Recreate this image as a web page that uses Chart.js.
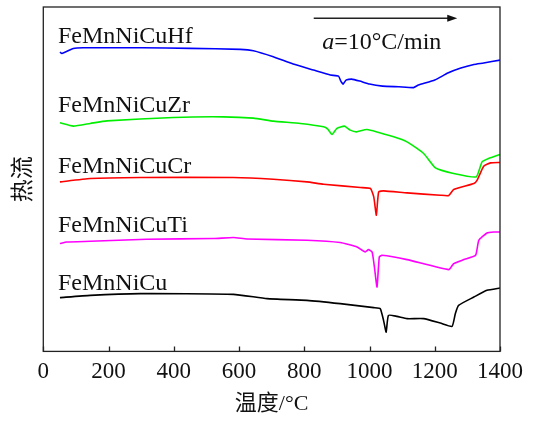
<!DOCTYPE html>
<html>
<head>
<meta charset="utf-8">
<script src="https://cdn.jsdelivr.net/npm/chart.js@4.4.1/dist/chart.umd.min.js"></script>
<style>
  html, body { margin: 0; padding: 0; background: #ffffff; }
  #wrap { width: 538px; height: 421px; }
</style>
</head>
<body>
<div id="wrap"><canvas id="dscChart"></canvas></div>
<script>
// x ticks (°C)
const xTicks = [0, 200, 400, 600, 800, 1000, 1200, 1400];

const seriesNames = ['FeMnNiCuHf', 'FeMnNiCuZr', 'FeMnNiCuCr', 'FeMnNiCuTi', 'FeMnNiCu'];
const seriesColors = ['#0000ff', '#00ee00', '#ff0000', '#ff00ff', '#000000'];

// heat flow, arbitrary units (curves are stacked with offsets)
const hfTemp = [51, 57, 92, 122, 303, 450, 604, 644, 705, 766, 828, 880, 905, 912, 919, 928, 945, 970, 1000, 1040, 1090, 1135, 1150, 1200, 1240, 1280, 1320, 1350, 1400];
const hfFlow = [299, 297.5, 302.5, 303.3, 303.3, 302.7, 301.7, 300.3, 294.3, 287, 281, 276, 275, 270, 267, 271, 272, 270, 267, 265, 264.3, 263.5, 266, 271, 278, 283, 286.5, 288, 291];

const zrTemp = [51, 92, 144, 195, 399, 552, 644, 706, 788, 859, 872, 885, 900, 923, 941, 960, 992, 1074, 1115, 1166, 1202, 1258, 1327, 1345, 1365, 1400];
const zrFlow = [228.3, 225, 227.7, 230.3, 233.7, 234.3, 233, 230, 227.7, 224.3, 222, 216.7, 222.7, 225, 221, 219.3, 221.7, 214.3, 209.3, 197.7, 183.3, 177.7, 174.3, 189.3, 192.7, 196.7];

const crTemp = [51, 144, 297, 582, 705, 808, 859, 972, 1003, 1013, 1021, 1028, 1043, 1115, 1217, 1243, 1258, 1320, 1330, 1350, 1371, 1400];
const crFlow = [169.3, 172.7, 173.7, 173.7, 172, 169.3, 167, 163.7, 162.7, 154.3, 136, 159.3, 160.3, 158.3, 156, 155.7, 161.7, 167.7, 171, 185, 188.3, 188.7];

const tiTemp = [51, 72, 144, 317, 522, 583, 624, 808, 910, 962, 987, 997, 1008, 1015, 1023, 1030, 1038, 1115, 1243, 1258, 1289, 1325, 1335, 1360, 1381, 1400];
const tiFlow = [107.7, 109.3, 110, 112, 112.7, 113.7, 112.3, 111, 108.7, 104.3, 99.3, 101.7, 99.3, 84.3, 64.3, 94.3, 96, 91.7, 81.7, 87.7, 91.7, 96, 111, 118.3, 119.3, 119.3];

const cuTemp = [51, 144, 297, 583, 686, 808, 910, 1013, 1033, 1043, 1051, 1058, 1084, 1115, 1166, 1217, 1253, 1263, 1273, 1320, 1360, 1400];
const cuFlow = [53.7, 56, 57.7, 57, 52.7, 51, 47.7, 43.7, 42.7, 31, 19.3, 36, 35, 32.7, 32.7, 28.3, 25, 37.7, 46, 54.3, 61, 63.3];

const allTemps = [hfTemp, zrTemp, crTemp, tiTemp, cuTemp];
const allFlows = [hfFlow, zrFlow, crFlow, tiFlow, cuFlow];

// label anchors (temperature, heat flow) for each curve name
const labelAt = [[45, 307.7], [45, 239.3], [45, 177.7], [45, 119.3], [45, 61.7]];

const serif = "'Liberation Serif', 'Times New Roman', 'Noto Sans CJK SC', serif";

const datasets = seriesNames.map((name, i) => ({
    label: name,
    data: allTemps[i].map((t, k) => ({ x: t, y: allFlows[i][k] })),
    borderColor: seriesColors[i],
    borderWidth: 1.6,
    pointRadius: 0,
    tension: 0.15,
    fill: false,
}));

// frame, inward ticks, curve names and heating-rate arrow
const decorations = {
    id: 'decorations',
    afterDraw(chart) {
        const { ctx, chartArea: a, scales: { x, y } } = chart;
        ctx.save();

        ctx.strokeStyle = '#222';
        ctx.lineWidth = 1.3;
        ctx.strokeRect(a.left, a.top, a.right - a.left, a.bottom - a.top);

        ctx.beginPath();
        xTicks.forEach(t => {
            const px = Math.round(x.getPixelForValue(t)) + 0.5;
            ctx.moveTo(px, a.bottom);
            ctx.lineTo(px, a.bottom - 5);
        });
        ctx.stroke();

        ctx.fillStyle = '#111';
        ctx.font = '24px ' + serif;
        ctx.textBaseline = 'alphabetic';
        ctx.textAlign = 'left';
        seriesNames.forEach((name, i) => {
            ctx.fillText(name, x.getPixelForValue(labelAt[i][0]), y.getPixelForValue(labelAt[i][1]));
        });

        // arrow
        const ay = y.getPixelForValue(332.7);
        const x0 = x.getPixelForValue(829);
        const x1 = x.getPixelForValue(1269);
        ctx.lineWidth = 1.6;
        ctx.beginPath();
        ctx.moveTo(x0, ay);
        ctx.lineTo(x1 - 8, ay);
        ctx.stroke();
        ctx.beginPath();
        ctx.moveTo(x1, ay);
        ctx.lineTo(x1 - 10, ay - 3.5);
        ctx.lineTo(x1 - 10, ay + 3.5);
        ctx.closePath();
        ctx.fill();

        // a=10°C/min
        const tx = x.getPixelForValue(855);
        const ty = y.getPixelForValue(302);
        ctx.font = 'italic 24px ' + serif;
        ctx.fillText('a', tx, ty);
        const w = ctx.measureText('a').width;
        ctx.font = '24px ' + serif;
        ctx.fillText('=10°C/min', tx + w, ty);

        ctx.restore();
    }
};

new Chart(document.getElementById('dscChart'), {
    type: 'line',
    data: { datasets },
    options: {
        responsive: true,
        maintainAspectRatio: false,
        animation: false,
        layout: { padding: { top: 7, right: 38, left: 7.7, bottom: 0 } },
        plugins: {
            legend: { display: false },
            tooltip: { enabled: false }
        },
        scales: {
            x: {
                type: 'linear',
                min: 0,
                max: 1400,
                afterBuildTicks: axis => { axis.ticks = xTicks.map(v => ({ value: v })); },
                grid: { display: false, drawTicks: false },
                border: { display: false },
                ticks: {
                    color: '#111',
                    padding: 7,
                    font: { family: serif, size: 23 },
                    callback: v => String(v)
                },
                title: {
                    display: true,
                    text: '温度/°C',
                    color: '#111',
                    font: { family: serif, size: 22, lineHeight: 1 },
                    padding: { top: 0, bottom: 6 }
                }
            },
            y: {
                type: 'linear',
                min: 0,
                max: 344,
                grid: { display: false, drawTicks: false },
                border: { display: false },
                ticks: { display: false },
                title: {
                    display: true,
                    text: '热流',
                    color: '#111',
                    font: { family: serif, size: 23 },
                    padding: { top: 2, bottom: 6 }
                }
            }
        }
    },
    plugins: [decorations]
});
</script>
</body>
</html>
